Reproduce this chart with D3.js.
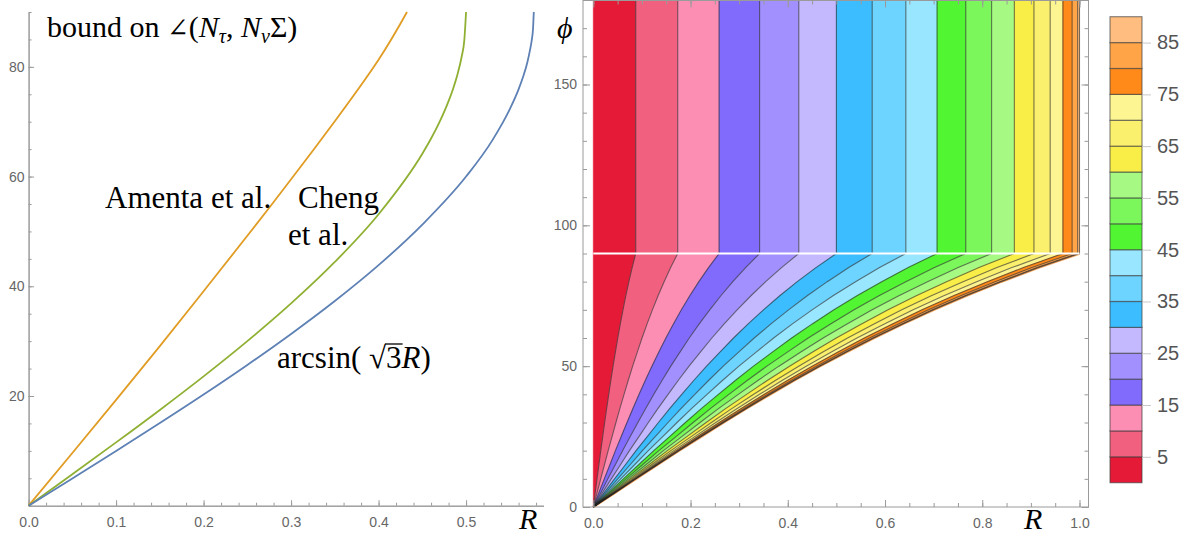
<!DOCTYPE html>
<html>
<head>
<meta charset="utf-8">
<script src="https://cdn.jsdelivr.net/npm/d3@7"></script>
<style>
  body { margin: 0; background: #fff; }
  svg { display: block; }
</style>
</head>
<body>
<script>
// ---- left panel: bounds as functions of R (degrees) ----
const amentaR = [0, 0.05, 0.1, 0.15, 0.2, 0.25, 0.3, 0.35, 0.4, 0.4325]
const amentaDeg = [0, 9.6, 19.3, 29.1, 39.1, 49.2, 59.5, 70.1, 81.3, 90]
const chengR = [0, 0.05, 0.1, 0.15, 0.2, 0.25, 0.3, 0.35, 0.4, 0.45, 0.46, 0.47, 0.48, 0.485, 0.49, 0.495, 0.498, 0.5]
const chengDeg = [0, 5.74, 11.54, 17.46, 23.58, 30.0, 36.87, 44.43, 53.13, 64.16, 66.93, 70.05, 73.74, 75.93, 78.52, 81.89, 84.87, 90]
const arcsinR = [0, 0.05, 0.1, 0.15, 0.2, 0.25, 0.3, 0.35, 0.4, 0.45, 0.5, 0.53, 0.55, 0.56, 0.565, 0.57, 0.573, 0.575, 0.5765, 0.5774]
const arcsinDeg = [0, 4.97, 9.98, 15.07, 20.27, 25.66, 31.31, 37.31, 43.85, 51.24, 60.0, 66.6, 72.3, 75.9, 78.1, 80.8, 83.0, 84.8, 86.9, 90]

const leftXTicks = [0, 0.1, 0.2, 0.3, 0.4, 0.5]
const leftYTicks = [20, 40, 60, 80]

// ---- right panel: contour plot over (R, phi) ----
// contour levels 0..90 step 5, R where each level meets phi = 90 (vertical above)
const levels = [0, 5, 10, 15, 20, 25, 30, 35, 40, 45, 50, 55, 60, 65, 70, 75, 80, 85, 90]
const edgeR90 = [0, 0.0872, 0.1736, 0.2588, 0.342, 0.4226, 0.5, 0.5736, 0.6428, 0.7071,
  0.766, 0.8192, 0.866, 0.9063, 0.9397, 0.9659, 0.9848, 0.9962, 1.0]
// lower boundary of the filled region (level 90) below phi = 90
const lowerPhi = [0, 5, 10, 15, 20, 25, 30, 35, 40, 45, 50, 55, 60, 65, 70, 75, 80, 85, 90]
const lowerR = [0, 0.044, 0.0875, 0.132, 0.176, 0.222, 0.268, 0.315, 0.364, 0.414,
  0.466, 0.521, 0.577, 0.637, 0.700, 0.767, 0.839, 0.916, 1.0]
const bandColors = ['#e41a36', '#f2607f', '#fb8eb2', '#806bfd', '#a190fd', '#c4b8fe',
  '#3bbdff', '#6dd3ff', '#98e6ff', '#52f532', '#7bf75c', '#a6fa84',
  '#f8ee47', '#fbf06e', '#fdf592', '#ff8a1a', '#ffa548', '#ffbe80']
const rightXTicks = [0, 0.2, 0.4, 0.6, 0.8, 1.0]
const rightYTicks = [0, 50, 100, 150]
const legendTicks = [5, 15, 25, 35, 45, 55, 65, 75, 85]

const width = 1192
const height = 537
const serif = '"Liberation Serif", "Times New Roman", serif'
const sans = '"Liberation Sans", Arial, sans-serif'
const axisGray = '#9a9a9a'
const labelGray = '#666'

let svg = d3.select('body')
  .append('svg')
  .attr('width', width)
  .attr('height', height)

function styleAxis(g, fontSize) {
  g.selectAll('.domain').attr('stroke', axisGray)
  g.selectAll('.tick line').attr('stroke', axisGray)
  g.selectAll('.tick text')
    .attr('fill', labelGray)
    .style('font-family', sans)
    .style('font-size', fontSize + 'px')
}

// ================= left panel =================
const xL = d3.scaleLinear().domain([0, 0.5885]).range([28.6, 543.5])
const yL = d3.scaleLinear().domain([0, 90]).range([505.7, 12])

let leftXMinor = d3.range(0, 0.59, 0.02)
let leftYMinor = d3.range(0, 90.1, 5)

svg.append('g')
  .attr('transform', `translate(0,${yL(0)})`)
  .call(d3.axisBottom(xL).tickValues(leftXMinor).tickSize(-3).tickSizeOuter(0).tickFormat(''))
  .call(g => styleAxis(g, 14))
svg.append('g')
  .attr('transform', `translate(0,${yL(0)})`)
  .call(d3.axisBottom(xL).tickValues(leftXTicks).tickSize(-5.5).tickSizeOuter(0)
    .tickPadding(11).tickFormat(d3.format('.1f')))
  .call(g => styleAxis(g, 14))

svg.append('g')
  .attr('transform', `translate(${xL(0)},0)`)
  .call(d3.axisLeft(yL).tickValues(leftYMinor).tickSize(-3).tickSizeOuter(0).tickFormat(''))
  .call(g => styleAxis(g, 14))
svg.append('g')
  .attr('transform', `translate(${xL(0)},0)`)
  .call(d3.axisLeft(yL).tickValues(leftYTicks).tickSize(-5.5).tickSizeOuter(0).tickPadding(4))
  .call(g => styleAxis(g, 14))

const curves = [
  { r: amentaR, v: amentaDeg, color: '#e19c24', curve: d3.curveNatural },
  { r: chengR, v: chengDeg, color: '#8fb032', curve: d3.curveMonotoneX },
  { r: arcsinR, v: arcsinDeg, color: '#5e81b5', curve: d3.curveMonotoneX }
]

svg.selectAll('path.bound')
  .data(curves)
  .enter()
  .append('path')
  .attr('class', 'bound')
  .attr('d', c => d3.line()
    .x(d => xL(d[0]))
    .y(d => yL(d[1]))
    .curve(c.curve)(c.r.map((r, i) => [r, c.v[i]])))
  .attr('fill', 'none')
  .attr('stroke', c => c.color)
  .attr('stroke-width', 1.8)

// title
let title = svg.append('text')
  .attr('x', 47).attr('y', 37)
  .style('font-family', serif).style('font-size', '30px')
title.append('tspan').text('bound on ')
title.append('tspan').style('font-family', '"DejaVu Serif", serif').style('font-size', '26px').text('∠')
title.append('tspan').text('(')
title.append('tspan').style('font-style', 'italic').text('N')
title.append('tspan').style('font-style', 'italic').style('font-size', '20px').attr('dy', 6).text('τ')
title.append('tspan').attr('dy', -6).text(', ')
title.append('tspan').style('font-style', 'italic').text('N')
title.append('tspan').style('font-style', 'italic').style('font-size', '20px').attr('dy', 6).text('ν')
title.append('tspan').attr('dy', -6).text('Σ)')

const serifLabel = (x, y, t) => svg.append('text')
  .attr('x', x).attr('y', y)
  .style('font-family', serif).style('font-size', '31px')
  .text(t)

serifLabel(105, 208, 'Amenta et al.')
serifLabel(298, 208, 'Cheng')
serifLabel(288, 245, 'et al.')

let arcLabel = svg.append('text')
  .attr('x', 277).attr('y', 368)
  .style('font-family', serif).style('font-size', '31px')
arcLabel.append('tspan').text('arcsin( √3')
arcLabel.append('tspan').style('font-style', 'italic').text('R')
arcLabel.append('tspan').text(')')
{
  const node = arcLabel.node()
  const i3 = 'arcsin( √'.length
  const s = node.getStartPositionOfChar(i3)
  const e = node.getEndPositionOfChar(i3)
  svg.append('line')
    .attr('x1', s.x - 1).attr('x2', e.x + 1)
    .attr('y1', 368 - 24).attr('y2', 368 - 24)
    .attr('stroke', '#000').attr('stroke-width', 1.3)
}

svg.append('text')
  .attr('x', 519).attr('y', 529)
  .style('font-family', serif).style('font-size', '30px').style('font-style', 'italic')
  .text('R')

// ================= right panel =================
const xR = d3.scaleLinear().domain([0, 1]).range([593.3, 1079.5])
const yR = d3.scaleLinear().domain([0, 180]).range([507, 0])

let bands = d3.range(levels.length - 1).map(k => {
  const e0 = edgeR90[k], e1 = edgeR90[k + 1]
  let pts = [[e0, 180], [e1, 180], [e1, 90]]
  for (let i = lowerPhi.length - 1; i >= 0; i--) pts.push([e1 * lowerR[i], lowerPhi[i]])
  for (let i = 0; i < lowerPhi.length; i++) pts.push([e0 * lowerR[i], lowerPhi[i]])
  return { pts: pts, color: bandColors[k] }
})

let poly = d3.line()
  .x(d => xR(d[0]))
  .y(d => yR(d[1]))

let plot = svg.append('g')
plot.selectAll('path.band')
  .data(bands)
  .enter()
  .append('path')
  .attr('class', 'band')
  .attr('d', b => poly(b.pts) + 'Z')
  .attr('fill', b => b.color)
  .attr('stroke', b => b.color)
  .attr('stroke-width', 0.6)

// contour lines
let contourLines = d3.range(1, levels.length).map(k => {
  let pts = lowerPhi.map((p, i) => [edgeR90[k] * lowerR[i], p])
  pts.push([edgeR90[k], 180])
  return pts
})
plot.append('path')
  .attr('d', poly(contourLines[contourLines.length - 1].slice(0, lowerPhi.length)))
  .attr('fill', 'none')
  .attr('stroke', '#f7a860')
  .attr('stroke-width', 2.6)
plot.selectAll('path.contour')
  .data(contourLines)
  .enter()
  .append('path')
  .attr('class', 'contour')
  .attr('d', d => poly(d))
  .attr('fill', 'none')
  .attr('stroke', '#222')
  .attr('stroke-opacity', 0.6)
  .attr('stroke-width', 1.1)

// white seam at phi = 90
plot.append('line')
  .attr('x1', xR(0)).attr('x2', xR(1))
  .attr('y1', yR(90)).attr('y2', yR(90))
  .attr('stroke', '#fff')
  .attr('stroke-width', 2.2)

// frame and ticks
svg.append('rect')
  .attr('x', 583).attr('y', 0.5)
  .attr('width', 505.5).attr('height', yR(0) - 0.5)
  .attr('fill', 'none')
  .attr('stroke', axisGray)

let rightXMinor = d3.range(0, 1.001, 0.05)
let rightYMinor = d3.range(0, 180.1, 10)

const frameAxis = (axis, transform, fontSize) => svg.append('g')
  .attr('transform', transform)
  .call(axis)
  .call(g => g.select('.domain').remove())
  .call(g => styleAxis(g, fontSize))

frameAxis(d3.axisBottom(xR).tickValues(rightXMinor).tickSize(-4).tickFormat(''), `translate(0,${yR(0)})`, 14)
frameAxis(d3.axisBottom(xR).tickValues(rightXTicks).tickSize(-7).tickPadding(11).tickFormat(d3.format('.1f')), `translate(0,${yR(0)})`, 14)
frameAxis(d3.axisTop(xR).tickValues(rightXMinor).tickSize(-4).tickFormat(''), 'translate(0,0.5)', 14)
frameAxis(d3.axisTop(xR).tickValues(rightXTicks).tickSize(-7).tickFormat(''), 'translate(0,0.5)', 14)
frameAxis(d3.axisLeft(yR).tickValues(rightYMinor).tickSize(-4).tickFormat(''), 'translate(583,0)', 14)
frameAxis(d3.axisLeft(yR).tickValues(rightYTicks).tickSize(-7).tickPadding(6), 'translate(583,0)', 14)
frameAxis(d3.axisRight(yR).tickValues(rightYMinor).tickSize(-4).tickFormat(''), 'translate(1088.5,0)', 14)
frameAxis(d3.axisRight(yR).tickValues(rightYTicks).tickSize(-7).tickFormat(''), 'translate(1088.5,0)', 14)

svg.append('text')
  .attr('x', 557).attr('y', 38)
  .style('font-family', serif).style('font-size', '30px').style('font-style', 'italic')
  .text('ϕ')
svg.append('text')
  .attr('x', 1024).attr('y', 529)
  .style('font-family', serif).style('font-size', '30px').style('font-style', 'italic')
  .text('R')

// ================= legend =================
const yLeg = d3.scaleLinear().domain([0, 90]).range([482.7, 16.7])
let legend = svg.append('g')
legend.selectAll('rect')
  .data(d3.range(levels.length - 1))
  .enter()
  .append('rect')
  .attr('x', 1110)
  .attr('width', 32)
  .attr('y', k => yLeg(levels[k + 1]))
  .attr('height', k => yLeg(levels[k]) - yLeg(levels[k + 1]))
  .attr('fill', k => bandColors[k])
  .attr('stroke', '#3a3a3a')
  .attr('stroke-opacity', 0.6)
  .attr('stroke-width', 1.2)

legend.append('g')
  .attr('transform', 'translate(1142,0)')
  .call(d3.axisRight(yLeg).tickValues(legendTicks).tickSize(9).tickPadding(6).tickSizeOuter(0))
  .call(g => g.select('.domain').remove())
  .call(g => {
    g.selectAll('.tick line').attr('stroke', '#c8c8c8')
    g.selectAll('.tick text')
      .attr('fill', '#555')
      .style('font-family', sans)
      .style('font-size', '20px')
  })
</script>
</body>
</html>
